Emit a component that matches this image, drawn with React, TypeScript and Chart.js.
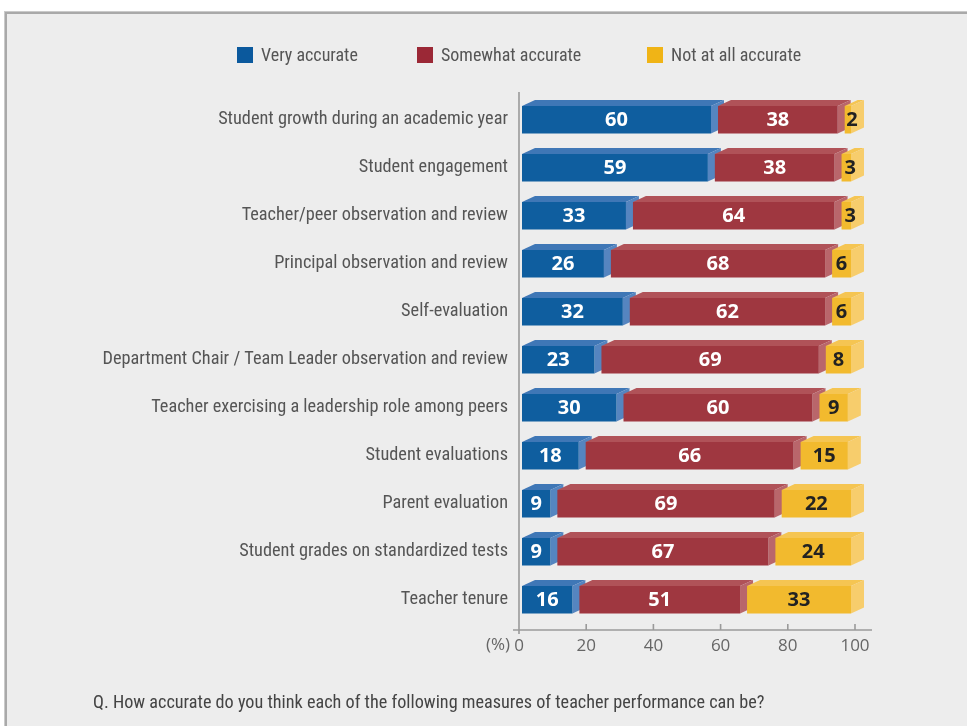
import React, { useEffect, useRef } from 'react';
import { Chart, registerables } from 'chart.js';

Chart.register(...registerables);

const categories = [
  'Student growth during an academic year',
  'Student engagement',
  'Teacher/peer observation and review',
  'Principal observation and review',
  'Self-evaluation',
  'Department Chair / Team Leader observation and review',
  'Teacher exercising a leadership role among peers',
  'Student evaluations',
  'Parent evaluation',
  'Student grades on standardized tests',
  'Teacher tenure',
];
const veryAccurate = [60, 59, 33, 26, 32, 23, 30, 18, 9, 9, 16];
const somewhatAccurate = [38, 38, 64, 68, 62, 69, 60, 66, 69, 67, 51];
const notAtAllAccurate = [2, 3, 3, 6, 6, 8, 9, 15, 22, 24, 33];
const seriesNames = ['Very accurate', 'Somewhat accurate', 'Not at all accurate'];
const xTickValues = [0, 20, 40, 60, 80, 100];
const unitLabel = '(%)';
const questionText = 'Q. How accurate do you think each of the following measures of teacher performance can be?';

const NARROW = '"Roboto Condensed", "Liberation Sans Narrow", sans-serif';
const SANS = '"Open Sans", "Noto Sans", sans-serif';

const palette = [
  { legend: '#0b599d', front: '#0f5e9f', top: '#3f77b6', side: '#5585c0', text: '#ffffff' },
  { legend: '#9b2836', front: '#9f3740', top: '#b05258', side: '#b9666b', text: '#ffffff' },
  { legend: '#f0b416', front: '#f2ba2e', top: '#f5c552', side: '#f7cd6c', text: '#222222' },
];
const legendX = [237, 417, 647];

const DX = 13;
const DY = 6;
const GAP = 7;

const customPlugin = {
  id: 'custom3d',
  beforeDraw(chart: any) {
    const ctx = chart.ctx;
    const W = chart.width;
    const H = chart.height;
    ctx.save();
    ctx.fillStyle = '#ffffff';
    ctx.fillRect(0, 0, W, H);
    ctx.fillStyle = '#cacaca';
    ctx.fillRect(4, 11, W, H);
    ctx.fillStyle = '#a9a9a9';
    ctx.fillRect(5, 12, W, H);
    ctx.fillStyle = '#ededed';
    ctx.fillRect(7, 14, W, H);
    ctx.restore();
  },
  afterDatasetsDraw(chart: any) {
    const ctx = chart.ctx;
    const xs = chart.scales.x;
    const ys = chart.scales.y;
    const p0 = xs.getPixelForValue(0);
    const p100 = xs.getPixelForValue(100);
    const left = 3;
    const right = 4;
    const nSeries = chart.data.datasets.length;
    const unit = (p100 - p0 - left - right - GAP * (nSeries - 1)) / 100;
    ctx.save();
    chart.data.labels.forEach((_: any, i: number) => {
      const cy = ys.getPixelForValue(i);
      const top = cy - 13.5;
      const bot = cy + 14;
      let cum = 0;
      const labels: any[] = [];
      chart.data.datasets.forEach((ds: any, d: number) => {
        const v = ds.data[i];
        const L = p0 + left + unit * cum + GAP * d;
        const R = L + unit * v;
        const c = palette[d];
        ctx.fillStyle = c.top;
        ctx.beginPath();
        ctx.moveTo(L, top);
        ctx.lineTo(L + DX, top - DY);
        ctx.lineTo(R + DX, top - DY);
        ctx.lineTo(R, top);
        ctx.closePath();
        ctx.fill();
        ctx.fillStyle = c.side;
        ctx.beginPath();
        ctx.moveTo(R, top);
        ctx.lineTo(R + DX, top - DY);
        ctx.lineTo(R + DX, bot - DY);
        ctx.lineTo(R, bot);
        ctx.closePath();
        ctx.fill();
        ctx.fillStyle = c.front;
        ctx.fillRect(L, top, R - L, bot - top);
        labels.push({ x: (L + R) / 2 + (v < 5 ? 4 : 0), y: cy + 1, text: String(v), color: c.text });
        cum += v;
      });
      ctx.font = `700 20px ${SANS}`;
      ctx.textAlign = 'center';
      ctx.textBaseline = 'middle';
      labels.forEach((lb) => {
        ctx.fillStyle = lb.color;
        ctx.fillText(lb.text, lb.x, lb.y);
      });
    });
    ctx.restore();
  },
  afterDraw(chart: any) {
    const ctx = chart.ctx;
    const xs = chart.scales.x;
    const p0 = xs.getPixelForValue(0);
    const p100 = xs.getPixelForValue(100);
    const axisY = 630;
    ctx.save();
    ctx.strokeStyle = '#9a9a9a';
    ctx.lineWidth = 1.6;
    ctx.beginPath();
    ctx.moveTo(p0, 92);
    ctx.lineTo(p0, axisY + 4);
    ctx.moveTo(p0 - 6, axisY);
    ctx.lineTo(p100 + 17, axisY);
    xTickValues.forEach((t) => {
      const px = xs.getPixelForValue(t);
      ctx.moveTo(px, axisY - 6);
      ctx.lineTo(px, axisY);
    });
    ctx.stroke();

    ctx.fillStyle = '#666666';
    ctx.font = `17px ${SANS}`;
    ctx.textAlign = 'right';
    ctx.textBaseline = 'middle';
    ctx.fillText(unitLabel, p0 - 9, 645);

    // legend
    ctx.font = `18px ${NARROW}`;
    ctx.textAlign = 'left';
    ctx.textBaseline = 'middle';
    chart.data.datasets.forEach((ds: any, d: number) => {
      const lx = legendX[d];
      ctx.fillStyle = palette[d].legend;
      ctx.fillRect(lx, 47, 16, 16);
      ctx.fillStyle = '#555555';
      ctx.fillText(ds.label, lx + 24, 56);
    });

    // question
    ctx.fillStyle = '#444444';
    ctx.font = `18.2px ${NARROW}`;
    ctx.fillText(questionText, 93, 703);
    ctx.restore();
  },
};

export default function App() {
  const ref = useRef<HTMLCanvasElement | null>(null);
  useEffect(() => {
    if (!ref.current) return;
    const series = [veryAccurate, somewhatAccurate, notAtAllAccurate];
    const chart = new Chart(ref.current, {
      type: 'bar',
      data: {
        labels: categories,
        datasets: series.map((data, d) => ({
          label: seriesNames[d],
          data,
          backgroundColor: 'rgba(0,0,0,0)',
          borderWidth: 0,
          stack: 's',
        })),
      },
      options: {
        indexAxis: 'y',
        animation: false,
        responsive: false,
        devicePixelRatio: 1,
        layout: { padding: { left: 0, right: 112, top: 95.5, bottom: 0 } },
        plugins: { legend: { display: false }, tooltip: { enabled: false } },
        scales: {
          x: {
            stacked: true,
            min: 0,
            max: 100,
            grid: { display: false, drawTicks: false },
            border: { display: false },
            ticks: {
              stepSize: 20,
              color: '#666666',
              font: { family: SANS, size: 17 },
              padding: 12,
              maxRotation: 0,
            },
            afterFit: (scale: any) => {
              scale.height = 102.5;
            },
          },
          y: {
            stacked: true,
            grid: { display: false, drawTicks: false },
            border: { display: false },
            ticks: {
              color: '#555555',
              font: { family: NARROW, size: 18.3 },
              padding: 11,
            },
            afterFit: (scale: any) => {
              scale.width = 519;
            },
          },
        },
      },
      plugins: [customPlugin],
    });
    return () => chart.destroy();
  }, []);
  return (
    <div style={{ position: 'fixed', left: 0, top: 0, width: 967, height: 726 }}>
      <canvas ref={ref} width={967} height={726} style={{ width: 967, height: 726, display: 'block' }} />
    </div>
  );
}
